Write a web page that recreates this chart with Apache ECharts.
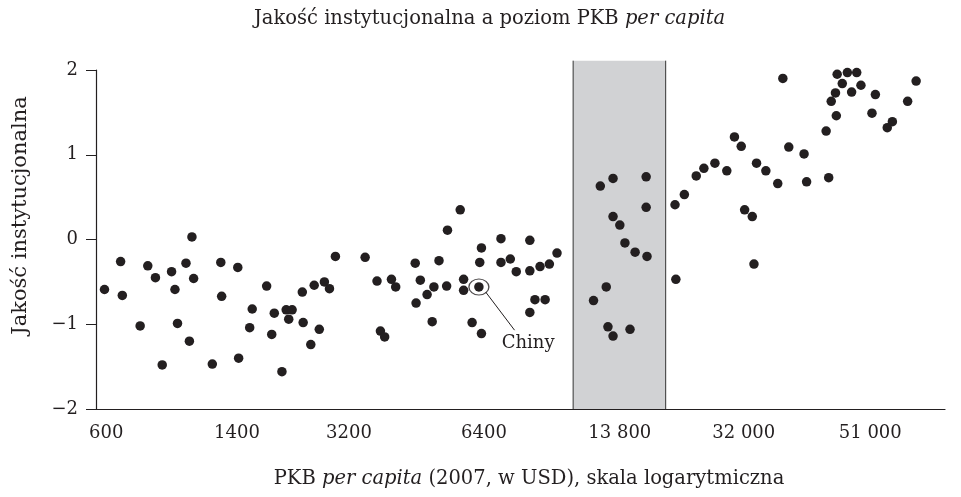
<!DOCTYPE html>
<html>
<head>
<meta charset="utf-8">
<script src="https://cdn.jsdelivr.net/npm/echarts@6/dist/echarts.min.js"></script>
<style>
  html, body { margin: 0; padding: 0; background: #fff; }
  #chart { width: 961px; height: 497px; }
</style>
</head>
<body>
<div id="chart"></div>
<script>
// x is the position along the (uneven) income scale, y is institutional quality
var tickLabels = ['600', '1400', '3200', '6400', '13 800', '32 000', '51 000'];
var tickPos = [0.12, 1.66, 2.98, 4.57, 6.17, 7.63, 9.12];
var bandRange = [5.62, 6.71];

var countries = [
  [0.10, -0.59], [0.29, -0.26], [0.31, -0.66], [0.52, -1.02], [0.61, -0.31],
  [0.70, -0.45], [0.78, -1.48], [0.89, -0.38], [0.93, -0.59], [0.96, -0.99],
  [1.06, -0.28], [1.13, 0.03], [1.15, -0.46], [1.10, -1.20], [1.37, -1.47],
  [1.47, -0.27], [1.48, -0.67], [1.67, -0.33], [1.68, -1.40], [1.84, -0.82],
  [1.81, -1.04], [2.01, -0.55], [2.10, -0.87], [2.07, -1.12], [2.19, -1.56],
  [2.24, -0.83], [2.31, -0.83], [2.27, -0.94], [2.43, -0.62], [2.44, -0.98],
  [2.53, -1.24], [2.57, -0.54], [2.63, -1.06], [2.69, -0.50], [2.75, -0.58],
  [2.82, -0.20], [3.17, -0.21], [3.31, -0.49], [3.48, -0.47], [3.53, -0.56],
  [3.35, -1.08], [3.40, -1.15], [3.76, -0.28], [3.82, -0.48], [3.77, -0.75],
  [3.90, -0.65], [3.98, -0.56], [3.96, -0.97], [4.04, -0.25], [4.13, -0.55],
  [4.14, 0.11], [4.29, 0.35], [4.33, -0.47], [4.33, -0.60], [4.43, -0.98],
  [4.54, -1.11], [4.52, -0.27], [4.54, -0.10], [4.77, 0.01], [4.77, -0.27],
  [4.88, -0.23], [4.95, -0.38], [5.11, -0.37], [5.11, -0.01], [5.23, -0.32],
  [5.34, -0.29], [5.43, -0.16], [5.17, -0.71], [5.29, -0.71], [5.11, -0.86],
  [5.94, 0.63], [6.09, 0.72], [6.48, 0.74], [6.09, 0.27], [6.17, 0.17],
  [6.48, 0.38], [6.23, -0.04], [6.35, -0.15], [6.49, -0.20], [6.01, -0.56],
  [5.86, -0.72], [6.03, -1.03], [6.09, -1.14], [6.29, -1.06],
  [6.82, 0.41], [6.93, 0.53], [6.83, -0.47], [7.07, 0.75], [7.16, 0.84],
  [7.29, 0.90], [7.43, 0.81], [7.52, 1.21], [7.60, 1.10], [7.78, 0.90],
  [7.64, 0.35], [7.73, 0.27], [7.75, -0.29], [8.09, 1.90], [8.16, 1.09],
  [7.89, 0.81], [8.03, 0.66], [8.34, 1.01], [8.37, 0.68], [8.63, 0.73],
  [8.60, 1.28], [8.72, 1.46], [8.66, 1.63], [8.71, 1.73], [8.73, 1.95],
  [8.79, 1.84], [8.85, 1.97], [8.96, 1.97], [8.90, 1.74], [9.01, 1.82],
  [9.14, 1.49], [9.18, 1.71], [9.32, 1.32], [9.38, 1.39], [9.56, 1.63],
  [9.66, 1.87]
];
var china = [4.51, -0.56];

var ink = '#231f20';
var serif = 'DejaVu Serif';

function minus(v) {
  return String(v).replace('-', '\u2212');
}

var option = {
  backgroundColor: '#fff',
  animation: false,
  textStyle: { fontFamily: serif, color: ink },
  title: {
    text: '{n|Jakość instytucjonalna a poziom PKB }{i|per capita}',
    left: 249,
    top: 4,
    textStyle: {
      rich: {
        n: { fontFamily: serif, fontSize: 19.5, fontWeight: 'normal', color: ink },
        i: { fontFamily: serif, fontSize: 19.5, fontWeight: 'normal', fontStyle: 'italic', color: ink }
      }
    }
  },
  grid: { left: 96, right: 16, top: 70, bottom: 88, containLabel: false, outerBoundsMode: 'none' },
  xAxis: {
    type: 'value',
    min: 0,
    max: 10,
    name: '{n|PKB }{i|per capita}{n| (2007, w USD), skala logarytmiczna}',
    nameLocation: 'middle',
    nameGap: 60,
    nameTextStyle: {
      padding: [0, 0, 0, 17],
      rich: {
        n: { fontFamily: serif, fontSize: 19.5, color: ink },
        i: { fontFamily: serif, fontSize: 19.5, fontStyle: 'italic', color: ink }
      }
    },
    axisLine: { onZero: false, lineStyle: { color: ink, width: 1.2 } },
    axisTick: { show: false },
    splitLine: { show: false },
    axisLabel: {
      customValues: tickPos,
      margin: 15,
      fontSize: 18,
      fontFamily: serif,
      color: ink,
      formatter: function(v) {
        var i = tickPos.indexOf(v);
        return i >= 0 ? tickLabels[i] : '';
      }
    }
  },
  yAxis: {
    type: 'value',
    min: -2,
    max: 2,
    interval: 1,
    name: 'Jakość instytucjonalna',
    nameLocation: 'middle',
    nameRotate: 90,
    nameGap: 65,
    nameTextStyle: { fontSize: 21, fontFamily: serif, color: ink, padding: [0, 0, 0, 48] },
    axisLine: { show: true, onZero: false, lineStyle: { color: ink, width: 1.2 } },
    axisTick: { show: true, inside: false, length: 10, lineStyle: { color: ink } },
    splitLine: { show: false },
    axisLabel: {
      margin: 18,
      fontSize: 18,
      fontFamily: serif,
      color: ink,
      formatter: minus
    }
  },
  series: [
    {
      name: 'band',
      type: 'custom',
      clip: false,
      silent: true,
      z: 1,
      encode: { x: [0, 1], y: [2, 3] },
      data: [[bandRange[0], bandRange[1], -2, 2.11]],
      renderItem: function(params, api) {
        var tl = api.coord([api.value(0), api.value(3)]);
        var br = api.coord([api.value(1), api.value(2)]);
        var line = { stroke: '#333', lineWidth: 1 };
        return {
          type: 'group',
          children: [
            { type: 'rect', shape: { x: tl[0], y: tl[1], width: br[0] - tl[0], height: br[1] - tl[1] }, style: { fill: '#d1d2d4' } },
            { type: 'line', shape: { x1: tl[0], y1: tl[1], x2: tl[0], y2: br[1] }, style: line },
            { type: 'line', shape: { x1: br[0], y1: tl[1], x2: br[0], y2: br[1] }, style: line }
          ]
        };
      }
    },
    {
      name: 'kraje',
      type: 'scatter',
      z: 3,
      symbolSize: 9.5,
      itemStyle: { color: ink, opacity: 1 },
      data: countries.concat([china])
    },
    {
      name: 'Chiny',
      type: 'scatter',
      z: 4,
      silent: true,
      symbol: 'circle',
      symbolSize: [20, 16],
      itemStyle: { color: 'rgba(0,0,0,0)', borderColor: ink, borderWidth: 1.2 },
      data: [china],
      markLine: {
        silent: true,
        symbol: 'none',
        label: { show: false },
        lineStyle: { color: ink, width: 1, type: 'solid' },
        data: [[
          { coord: [china[0] + 0.08, china[1] - 0.06] },
          { coord: [china[0] + 0.42, china[1] - 0.51] }
        ]]
      },
      markPoint: {
        silent: true,
        symbol: 'circle',
        symbolSize: 0,
        label: {
          show: true,
          position: 'inside',
          formatter: 'Chiny',
          fontFamily: serif,
          fontSize: 18,
          color: ink
        },
        data: [{ coord: [china[0] + 0.58, china[1] - 0.67] }]
      }
    }
  ]
};

var myChart = echarts.init(document.getElementById('chart'));
myChart.setOption(option);
</script>
</body>
</html>
